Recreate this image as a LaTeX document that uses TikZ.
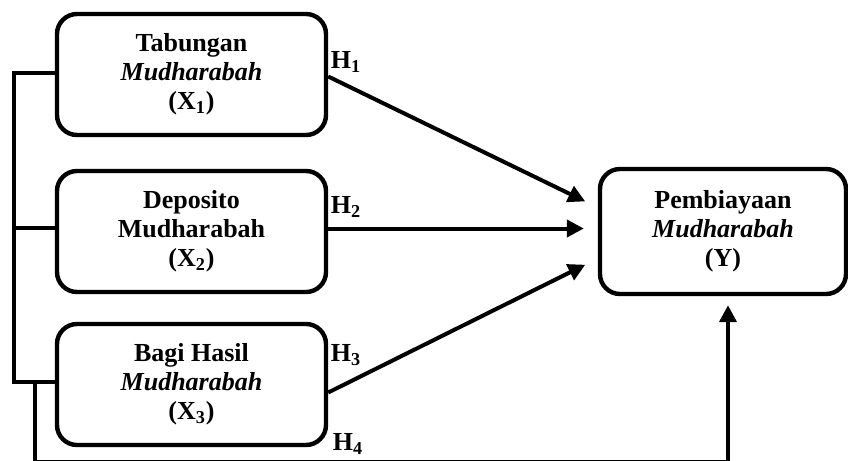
\documentclass[tikz,border=0pt]{standalone}
\usepackage{fontspec}
\setmainfont{Liberation Serif}
\usetikzlibrary{arrows.meta, positioning}

\begin{document}
\begin{tikzpicture}[x=0.5pt, y=-0.5pt,
  var/.style={draw, rectangle, rounded corners=10pt, line width=2.2pt, minimum width=134.5pt, minimum height=60.5pt, align=center, font=\fontsize{13}{14.5}\selectfont\bfseries},
  wire/.style={line width=2pt},
  link/.style={line width=2pt, -{Triangle[length=8.5pt,width=8.5pt]}, shorten >=7pt},
  hyp/.style={font=\fontsize{13}{14.5}\selectfont\bfseries}]
\clip (0,0) rectangle (848,461);
\node[var] at (191.5,74.5) (X1) {Tabungan\\\textit{Mudharabah}\\(X\textsubscript{1})};
\node[var] at (191.5,231.5) (X2) {Deposito\\Mudharabah\\(X\textsubscript{2})};
\node[var] at (191.5,384.5) (X3) {Bagi Hasil\\\textit{Mudharabah}\\(X\textsubscript{3})};
\node[var, minimum width=123pt, minimum height=62.5pt] at (723,231.5) (Y) {Pembiayaan\\\textit{Mudharabah}\\(Y)};
\node[hyp] at (346,62) (H1) {H\textsubscript{1}};
\node[hyp] at (346,207) (H2) {H\textsubscript{2}};
\node[hyp] at (346,355) (H3) {H\textsubscript{3}};
\node[hyp] at (348,444) (H4) {H\textsubscript{4}};
% arrows into Y
\draw[link] ([yshift=-1pt]X1.east) -- ([yshift=12pt]Y.west);
\draw[link] ([yshift=1.5pt]X2.east) -- ([yshift=1.5pt]Y.west);
\draw[link] ([yshift=-4pt]X3.east) -- ([yshift=-13.5pt]Y.west);
% left bracket
\coordinate (railtop) at (14,73);
\coordinate (railbot) at (14,382);
\draw[wire] (X1.west |- railtop) -- (railtop) -- (railbot) -- (X3.west |- railbot);
\draw[wire] ([yshift=2pt]X2.west) -- ([yshift=2pt]X2.west -| railtop);
% H4 path along the bottom
\coordinate (fork) at (35,382);
\coordinate (floor) at (35,462);
\draw[link, shorten >=4.5pt] (fork) -- (floor) -| ([xshift=2.5pt]Y.south);
\end{tikzpicture}
\end{document}
